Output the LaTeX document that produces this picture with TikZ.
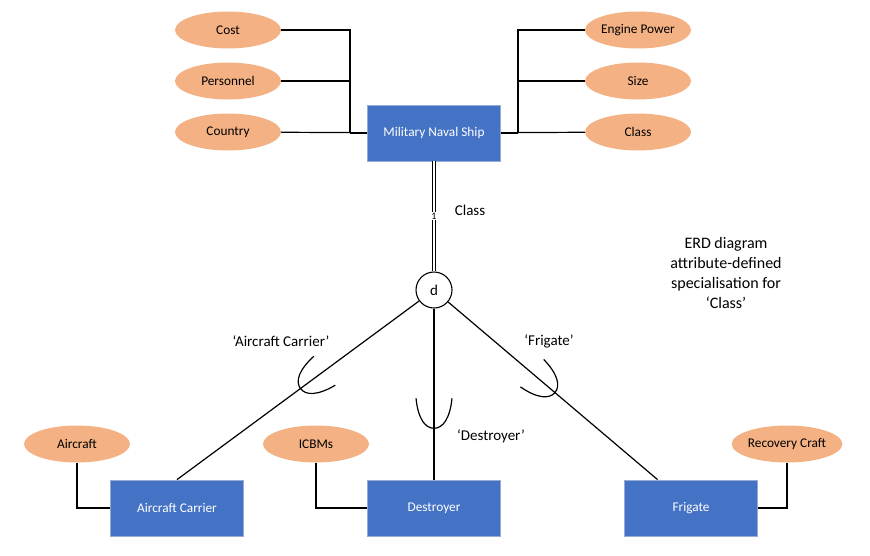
\documentclass[tikz,border=0pt]{standalone}
\usepackage{fontspec}
\setmainfont{Carlito}
\usepackage{tikz}
\usetikzlibrary{shapes.geometric, positioning, calc}
\definecolor{entblue}{RGB}{68,114,196}
\definecolor{entedge}{RGB}{150,172,214}
\definecolor{attrorange}{RGB}{244,177,131}
\tikzset{
  entity/.style={rectangle, draw=entedge, fill=entblue, text=white,
    minimum width=133pt, minimum height=56pt,
    font=\fontsize{13.3}{16}\selectfont, line width=0.8pt},
  attr/.style={ellipse, fill=attrorange, minimum width=106pt,
    minimum height=37pt, inner sep=0pt,
    font=\fontsize{13.3}{16}\selectfont},
  disj/.style={circle, draw, fill=white, minimum size=36pt,
    inner sep=0pt, font=\fontsize{15}{18}\selectfont, line width=1.1pt},
  line/.style={line width=1.2pt, color=black},
  lbl/.style={font=\fontsize{15}{18}\selectfont},
  subset/.pic={\draw[line] (-30,18) .. controls (-10,16) and (0,9) .. (0,0)
    .. controls (0,-9) and (-10,-16) .. (-30,-18);}
}

\begin{document}
\begin{tikzpicture}[x=1pt, y=-1pt]
  \useasboundingbox (0,0) rectangle (870,555);

  % Superclass
  \node[entity] (ship) at (434,133) {Military Naval Ship};

  % Superclass attributes
  \node[attr] (cost) at (228,30) {Cost};
  \node[attr] (pers) at (228,81) {Personnel};
  \node[attr] (country) at (228,132) {Country};
  \node[attr] (engine) at (638,30) {Engine Power};
  \node[attr] (size) at (638,81) {Size};
  \node[attr] (cls) at (638,132) {Class};

  % Disjoint circle
  \node[disj] (disj) at (434,290) {d};

  % Subclasses
  \node[entity] (carrier) at (177,508) {Aircraft Carrier};
  \node[entity] (destroyer) at (434,508) {Destroyer};
  \node[entity] (frigate) at (691,508) {Frigate};

  % Subclass attributes
  \node[attr] (aircraft) at (77,444) {Aircraft};
  \node[attr] (icbm) at (316,444) {ICBMs};
  \node[attr] (recovery) at (787,444) {Recovery Craft};

  % Attribute connectors
  \coordinate (ljoin) at (350,133);
  \coordinate (rjoin) at (518,133);
  \draw[line] (cost) -| (ljoin);
  \draw[line] (pers) -| (ljoin);
  \draw[line] (country) -- (ship);
  \draw[line] (ljoin) -- (ship);
  \draw[line] (engine) -| (rjoin);
  \draw[line] (size) -| (rjoin);
  \draw[line] (cls) -- (ship);
  \draw[line] (rjoin) -- (ship);
  \draw[line] (aircraft) |- (carrier);
  \draw[line] (icbm) |- (destroyer);
  \draw[line] (recovery) |- (frigate);

  % Total participation
  \draw[line, line width=1pt, double, double distance=2pt] (ship) -- (disj);
  \path (ship) -- (disj) node[pos=0.5, fill=white, text=black, inner sep=0.8pt,
    font=\fontsize{10}{10}\selectfont] (card) {1};

  % Specialisation lines
  \draw[line] (disj) -- (carrier.north)
    pic[pos=0.49, sloped, allow upside down] {subset};
  \draw[line] (disj) -- (destroyer.north)
    pic[pos=0.70, sloped, allow upside down] {subset};
  \draw[line] (disj) -- ($(frigate.north west)!0.25!(frigate.north east)$)
    pic[pos=0.51, sloped, allow upside down] {subset};

  % Labels
  \node[lbl] (lclass) at (470,210) {Class};
  \node[lbl] (lcarrier) at (281,341) {‘Aircraft Carrier’};
  \node[lbl] (lfrigate) at (549,341) {‘Frigate’};
  \node[lbl] (ldestroyer) at (491,436) {‘Destroyer’};
  \node[align=center, font=\fontsize{16}{19.7}\selectfont] (note) at (726,273)
    {ERD diagram\\attribute-defined\\specialisation for\\‘Class’};
\end{tikzpicture}
\end{document}
